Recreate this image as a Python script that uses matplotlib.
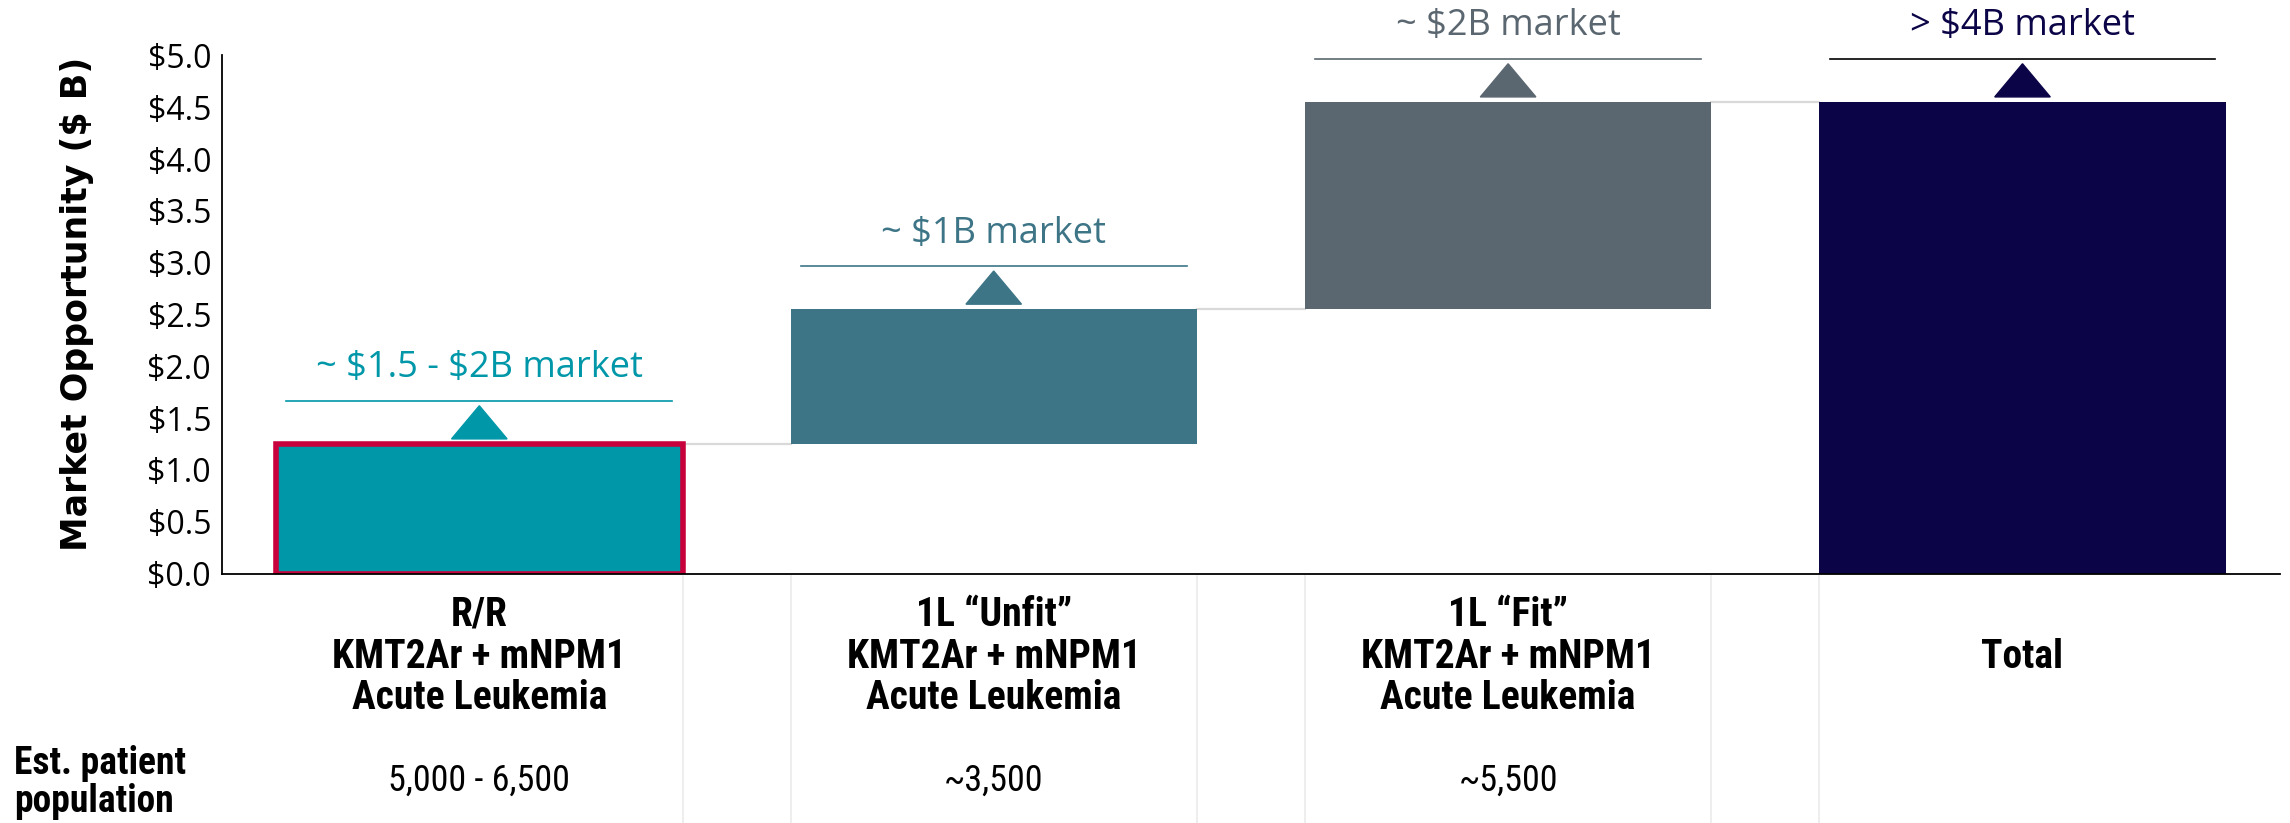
import numpy as np
import matplotlib.pyplot as plt
from matplotlib.ticker import FuncFormatter

# Datos del gráfico
categorias = ['R/R\nKMT2Ar + mNPM1\nAcute Leukemia',
              '1L \u201cUnfit\u201d\nKMT2Ar + mNPM1\nAcute Leukemia',
              '1L \u201cFit\u201d\nKMT2Ar + mNPM1\nAcute Leukemia',
              'Total']
incrementos = [1.25, 1.30, 2.00]          # Oportunidad de cada segmento [$ B]
etiquetas_mercado = ['~ $1.5 - $2B market', '~ $1B market',
                     '~ $2B market', '> $4B market']
pacientes = ['5,000 - 6,500', '~3,500', '~5,500', '']

colores = ['#0097A9', '#3D7587', '#5B6770', '#0B0447']
colores_linea = ['#0097A9', '#3D7587', '#5B6770', '#000000']

# Cascada: base y altura de cada barra
total = np.sum(incrementos)
bases = np.concatenate([[0], np.cumsum(incrementos)[:-1], [0]])
alturas = np.concatenate([incrementos, [total]])
tops = bases + alturas

fuente_texto = ['Open Sans', 'DejaVu Sans']
fuente_cat = ['Roboto Condensed', 'Liberation Sans Narrow', 'Open Sans', 'DejaVu Sans']

fig = plt.figure(figsize=(22.9, 8.23), dpi=100)
ax = fig.add_axes([0.097, 0.303, 0.8985, 0.6296])

x = np.arange(len(categorias))
ancho = 0.79
barras = ax.bar(x, alturas, bottom=bases, width=ancho, color=colores, zorder=2)
barras[0].set_edgecolor('#C8003C')
barras[0].set_linewidth(4)

# Líneas conectoras grises entre barras
for i in range(len(x) - 1):
    ax.plot([x[i] + ancho / 2, x[i + 1] - ancho / 2], [tops[i], tops[i]],
            color='#D9D9D9', lw=1.6, zorder=1)

# Triángulos, líneas y textos de cada mercado
for i in range(len(x)):
    base_t = tops[i] + 0.05
    ax.fill([x[i] - 0.054, x[i] + 0.054, x[i]], [base_t, base_t, base_t + 0.32],
            color=colores[i], clip_on=False, zorder=3)
    y_linea = base_t + 0.37
    ax.plot([x[i] - 0.375, x[i] + 0.375], [y_linea, y_linea],
            color=colores_linea[i], lw=1.2, clip_on=False)
    ax.text(x[i], y_linea + 0.31, etiquetas_mercado[i], color=colores[i],
            ha='center', va='center', fontsize=26, family=fuente_texto,
            parse_math=False)

ax.set_xlim(-0.5, 3.5)
ax.set_ylim(0, 5)
ax.set_yticks(np.arange(0, 5.01, 0.5))
ax.yaxis.set_major_formatter(FuncFormatter(lambda v, p: '\\$%.1f' % v))
ax.tick_params(axis='y', length=0, labelsize=23, pad=8)
for t in ax.get_yticklabels():
    t.set_family(fuente_texto)
ax.set_xticks([])
ax.spines['top'].set_visible(False)
ax.spines['right'].set_visible(False)
ax.spines['left'].set_linewidth(1.3)
ax.spines['bottom'].set_linewidth(1.3)
ax.set_ylabel('Market Opportunity (\\$ B)', fontsize=25, fontweight='bold',
              family=['DejaVu Sans'])
ax.yaxis.set_label_coords(-0.0625, 0.521)

# Separadores verticales bajo el eje
for i in range(len(x) - 1):
    for xs in (x[i] + ancho / 2, x[i + 1] - ancho / 2):
        ax.plot([xs, xs], [-0.005, -0.49], color='#EBEBEB', lw=1.2,
                transform=ax.get_xaxis_transform(), clip_on=False)

# Etiquetas de categoría y población de pacientes
for i in range(len(x)):
    ax.text(x[i], -0.16, categorias[i], transform=ax.get_xaxis_transform(),
            ha='center', va='center', fontsize=28.5, fontweight='bold',
            linespacing=1.12, family=fuente_cat)
    ax.text(x[i], -0.40, pacientes[i], transform=ax.get_xaxis_transform(),
            ha='center', va='center', fontsize=26, family=fuente_cat)

fig.text(0.006, 0.049, 'Est. patient\npopulation', ha='left', va='center',
         fontsize=27, fontweight='bold', linespacing=1.05, family=fuente_cat)

fig.savefig('out.png', dpi=100)
